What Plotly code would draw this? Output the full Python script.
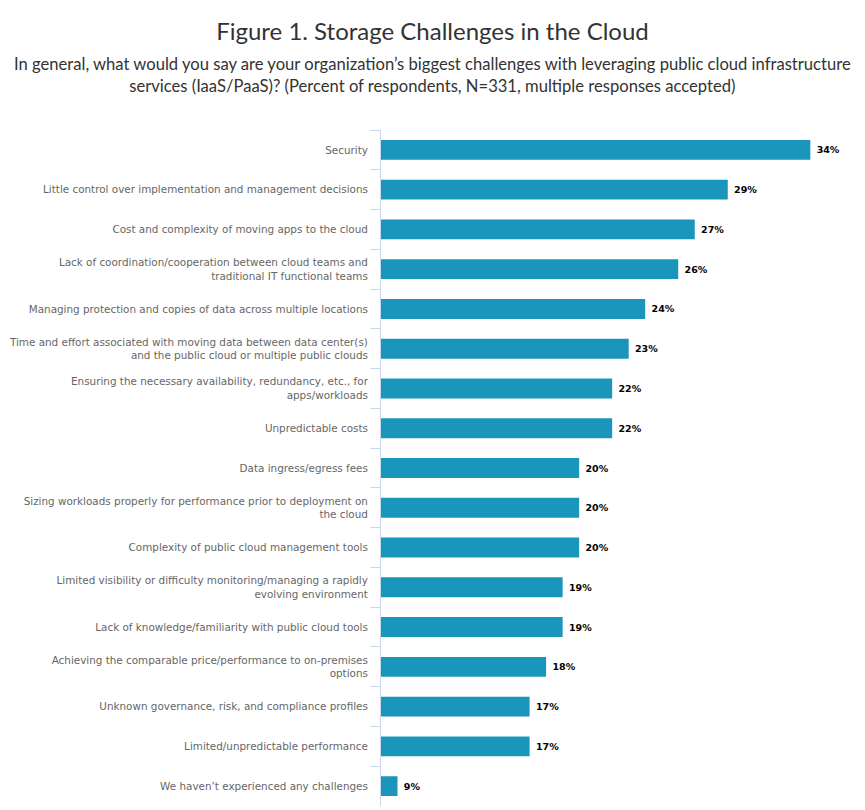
import plotly.graph_objects as go

# survey responses, top to bottom as shown
challenges = [
    "Security",
    "Little control over implementation and management decisions",
    "Cost and complexity of moving apps to the cloud",
    "Lack of coordination/cooperation between cloud teams and<br>traditional IT functional teams",
    "Managing protection and copies of data across multiple locations",
    "Time and effort associated with moving data between data center(s)<br>and the public cloud or multiple public clouds",
    "Ensuring the necessary availability, redundancy, etc., for<br>apps/workloads",
    "Unpredictable costs",
    "Data ingress/egress fees",
    "Sizing workloads properly for performance prior to deployment on<br>the cloud",
    "Complexity of public cloud management tools",
    "Limited visibility or difficulty monitoring/managing a rapidly<br>evolving environment",
    "Lack of knowledge/familiarity with public cloud tools",
    "Achieving the comparable price/performance to on-premises<br>options",
    "Unknown governance, risk, and compliance profiles",
    "Limited/unpredictable performance",
    "We haven\u2019t experienced any challenges",
]
percents = [34, 29, 27, 26, 24, 23, 22, 22, 20, 20, 20, 19, 19, 18, 17, 17, 9]

title = "Figure 1. Storage Challenges in the Cloud"
subtitle = (
    "In general, what would you say are your organization\u2019s biggest challenges with leveraging public cloud infrastructure<br>"
    "services (IaaS/PaaS)? (Percent of respondents, N=331, multiple responses accepted)"
)

BAR = "#1a96bd"
AXIS = "#ccd6eb"

# page body adds 8px on the left/top, so the figure is a bit smaller than the window
W, H = 857, 802
L, R, T, B = 373, 20, 122, 4

fig = go.Figure(
    go.Bar(
        x=percents,
        y=challenges,
        orientation="h",
        marker=dict(color=BAR, line=dict(width=0)),
        text=[f" {p}%" for p in percents],
        textposition="outside",
        textfont=dict(family="DejaVu Sans", size=9.5, color="#000000", weight="bold"),
        cliponaxis=False,
        hoverinfo="skip",
    )
)

fig.update_layout(
    width=W,
    height=H,
    margin=dict(l=L, r=R, t=T, b=B),
    paper_bgcolor="white",
    plot_bgcolor="white",
    bargap=0.5,
    showlegend=False,
    title=dict(
        text=title,
        x=(432.5 - 8) / W,
        xref="container",
        xanchor="center",
        y=1 - 24 / H,
        yref="container",
        yanchor="middle",
        font=dict(family="Lato", size=24, color="#333333"),
    ),
)

plot_w = W - L - R
plot_h = H - T - B
fig.add_annotation(
    text=subtitle,
    xref="paper",
    yref="paper",
    x=(432.5 - 8 - L) / plot_w,
    y=1 + (T - 67) / plot_h,
    xanchor="center",
    yanchor="middle",
    showarrow=False,
    align="center",
    font=dict(family="Lato", size=16.6, color="#333333"),
)

fig.update_xaxes(range=[8, 36.1], visible=False, showgrid=False, zeroline=False)
fig.update_yaxes(
    autorange="reversed",
    automargin=False,
    showline=True,
    linecolor=AXIS,
    linewidth=1,
    ticks="outside",
    tickson="boundaries",
    ticklen=10,
    tickcolor=AXIS,
    tickwidth=1,
    ticklabelstandoff=10,
    showgrid=False,
    tickfont=dict(family="DejaVu Sans", size=10.4, color="#666666"),
)

fig.write_html("out.html")
